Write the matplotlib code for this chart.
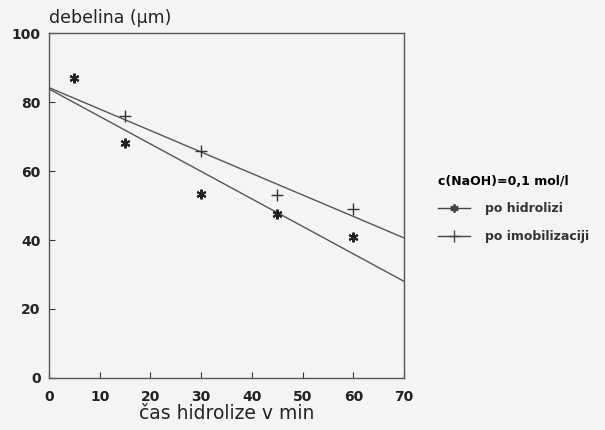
import matplotlib
matplotlib.use("Agg")
import matplotlib.pyplot as plt
from matplotlib.lines import Line2D

# data
x_hid = [5, 15, 30, 45, 60]
y_hid = [87, 68, 53.3, 47.5, 40.9]
x_imo = [15, 30, 45, 60]
y_imo = [75.9, 65.8, 53, 49]
fit_x = [0, 70]
fit_hid = [83.8, 28.0]
fit_imo = [84.2, 40.6]
xticks = [0, 10, 20, 30, 40, 50, 60, 70]
yticks = [0, 20, 40, 60, 80, 100]

bg = "#f4f4f4"
ink = "#333333"
fig = plt.figure(figsize=(6.05, 4.30), dpi=100, facecolor=bg)
ax = fig.add_axes([0.081, 0.121, 0.587, 0.802], facecolor=bg)

ax.plot(fit_x, fit_hid, color="#555555", lw=1.0)
ax.plot(fit_x, fit_imo, color="#555555", lw=1.0)
ax.plot(x_hid, y_hid, ls="none", marker=(6, 2, 0), ms=7, mew=1.5, color="#222222")
ax.plot(x_imo, y_imo, ls="none", marker="+", ms=9, mew=1.0, color="#333333")

ax.set_xlim(0, 70)
ax.set_ylim(0, 100)
ax.set_xticks(xticks)
ax.set_yticks(yticks)
ax.set_xticklabels([str(v) for v in xticks])
ax.set_yticklabels([str(v) for v in yticks])
ax.tick_params(direction="in", length=4, color=ink, labelsize=10, labelcolor="#222222")
ax.tick_params(axis="x", pad=9)
ax.tick_params(axis="y", pad=6)
for lab in ax.get_xticklabels() + ax.get_yticklabels():
    lab.set_fontweight("bold")
for s in ax.spines.values():
    s.set_color("#555555")
    s.set_linewidth(1.0)

ax.set_xlabel("čas hidrolize v min", fontsize=13.5, color="#222222", labelpad=0)
fig.text(0.081, 0.958, "debelina (μm)", fontsize=12.5, color="#222222", ha="left", va="center")

handles = [
    Line2D([], [], color="#444444", lw=1.0, marker=(6, 2, 0), ms=6, mew=1.3),
    Line2D([], [], color="#444444", lw=1.0, marker="+", ms=9, mew=1.0),
]
leg = ax.legend(handles, ["po hidrolizi", "po imobilizaciji"],
                title="c(NaOH)=0,1 mol/l", loc="center left",
                bbox_to_anchor=(1.07, 0.49), frameon=False,
                prop={"size": 9, "weight": "bold"}, handlelength=2.6,
                labelspacing=1.2, handletextpad=1.2, borderpad=0.2)
leg.get_title().set_fontsize(9)
leg.get_title().set_fontweight("bold")
leg._legend_box.align = "left"
leg._legend_box.sep = 10
for t in leg.get_texts():
    t.set_color("#333333")

fig.savefig("out.png", dpi=100, facecolor=bg)
